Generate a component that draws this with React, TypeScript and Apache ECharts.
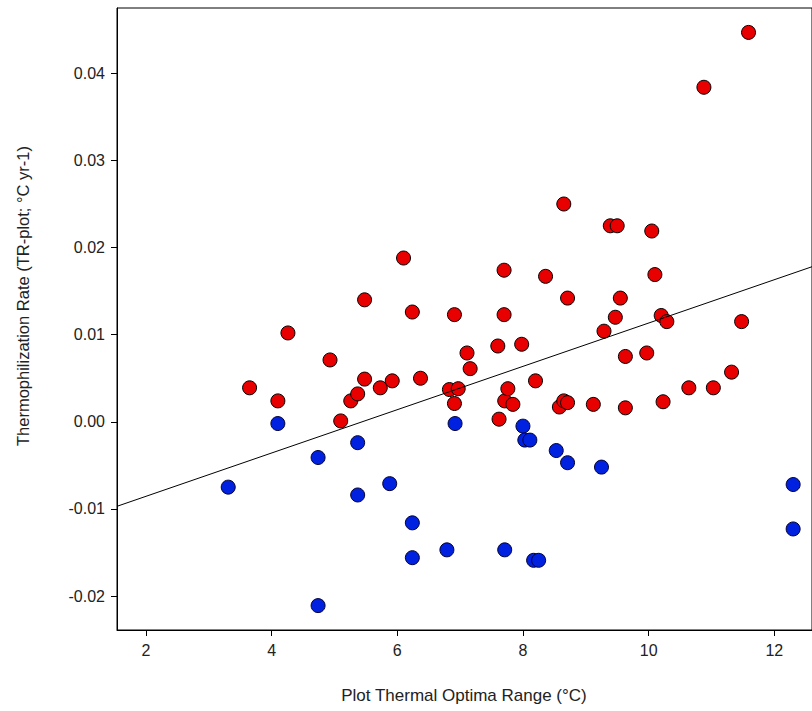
import React, { useRef, useEffect } from 'react'
import * as echarts from 'echarts'

const redPoints: [number, number][] = [
  [3.65, 0.0039], [4.1, 0.0024], [4.26, 0.0102], [4.93, 0.0071], [5.1, 0.0001],
  [5.26, 0.0024], [5.37, 0.0032], [5.48, 0.014], [5.48, 0.0049], [5.73, 0.0039],
  [5.92, 0.0047], [6.1, 0.0188], [6.24, 0.0126], [6.37, 0.005], [6.83, 0.0037],
  [6.91, 0.0123], [6.91, 0.0021], [6.97, 0.0038], [7.11, 0.0079], [7.16, 0.0061],
  [7.6, 0.0087], [7.62, 0.0003], [7.7, 0.0174], [7.7, 0.0123], [7.71, 0.0024],
  [7.76, 0.0038], [7.84, 0.002], [7.98, 0.0089], [8.2, 0.0047], [8.36, 0.0167],
  [8.58, 0.0017], [8.65, 0.025], [8.65, 0.0024], [8.71, 0.0022], [8.71, 0.0142],
  [9.12, 0.002], [9.29, 0.0104], [9.39, 0.0225], [9.5, 0.0225], [9.47, 0.012],
  [9.55, 0.0142], [9.63, 0.0075], [9.63, 0.0016], [9.97, 0.0079], [10.05, 0.0219],
  [10.1, 0.0169], [10.2, 0.0122], [10.29, 0.0115], [10.23, 0.0023], [10.64, 0.0039],
  [10.88, 0.0384], [11.03, 0.0039], [11.32, 0.0057], [11.48, 0.0115], [11.59, 0.0447],
]

const bluePoints: [number, number][] = [
  [3.31, -0.0075], [4.1, -0.0002], [4.74, -0.0041], [4.74, -0.0211], [5.37, -0.0024],
  [5.37, -0.0084], [5.88, -0.0071], [6.24, -0.0116], [6.24, -0.0156], [6.79, -0.0147],
  [6.92, -0.0002], [7.71, -0.0147], [8.0, -0.0005], [8.03, -0.0021], [8.11, -0.0021],
  [8.17, -0.0159], [8.25, -0.0159], [8.53, -0.0033], [8.71, -0.0047], [9.25, -0.0052],
  [12.3, -0.0072], [12.3, -0.0123],
]

const fitLine: [number, number][] = [[1.54, -0.0097], [12.6, 0.0178]]

const xTicks = [2, 4, 6, 8, 10, 12]
const yTicks = [-0.02, -0.01, 0, 0.01, 0.02, 0.03, 0.04]

const App: React.FC = () => {
  const ref = useRef<HTMLDivElement>(null)

  useEffect(() => {
    if (!ref.current) return
    const chart = echarts.init(ref.current, undefined, { renderer: 'svg' })
    const font = 'Liberation Sans, Arial, sans-serif'
    chart.setOption({
      animation: false,
      backgroundColor: '#fff',
      grid: { left: 117, top: 8, bottom: 81, right: -3, show: true, borderColor: '#000', borderWidth: 1 },
      graphic: [
        {
          type: 'text', x: 464, y: 695,
          style: { text: 'Plot Thermal Optima Range (°C)', fill: '#222', font: `17px ${font}`, align: 'center', verticalAlign: 'middle' },
        },
        {
          type: 'text', x: 23, y: 296, rotation: Math.PI / 2,
          style: { text: 'Thermophilization Rate (TR-plot; °C yr-1)', fill: '#222', font: `16.5px ${font}`, align: 'center', verticalAlign: 'middle' },
        },
      ],
      xAxis: {
        type: 'value',
        min: 1.54,
        max: 12.6,
        axisLine: { onZero: false, lineStyle: { color: '#000' } },
        axisTick: { length: 6, lineStyle: { color: '#000' }, customValues: xTicks },
        axisLabel: { color: '#222', fontSize: 16, fontFamily: font, margin: 12, customValues: xTicks },
        splitLine: { show: false },
      },
      yAxis: {
        type: 'value',
        min: -0.0239,
        max: 0.0475,
        axisLine: { show: true, onZero: false, lineStyle: { color: '#000' } },
        axisTick: { show: true, length: 6, lineStyle: { color: '#000' }, customValues: yTicks },
        axisLabel: {
          color: '#222', fontSize: 16, fontFamily: font, margin: 12, customValues: yTicks,
          formatter: (v: number) => v.toFixed(2),
        },
        splitLine: { show: false },
      },
      series: [
        {
          type: 'line',
          data: fitLine,
          symbol: 'none',
          lineStyle: { color: '#000', width: 1 },
          silent: true,
        },
        {
          type: 'scatter',
          data: redPoints,
          symbolSize: 14,
          itemStyle: { color: '#e80000', borderColor: '#000', borderWidth: 1, opacity: 1 },
        },
        {
          type: 'scatter',
          data: bluePoints,
          symbolSize: 14,
          itemStyle: { color: '#0022e0', borderColor: '#000033', borderWidth: 1, opacity: 1 },
        },
      ],
    })
    return () => chart.dispose()
  }, [])

  return <div ref={ref} style={{ position: 'fixed', left: 0, top: 0, width: 812, height: 711 }} />
}

export default App
